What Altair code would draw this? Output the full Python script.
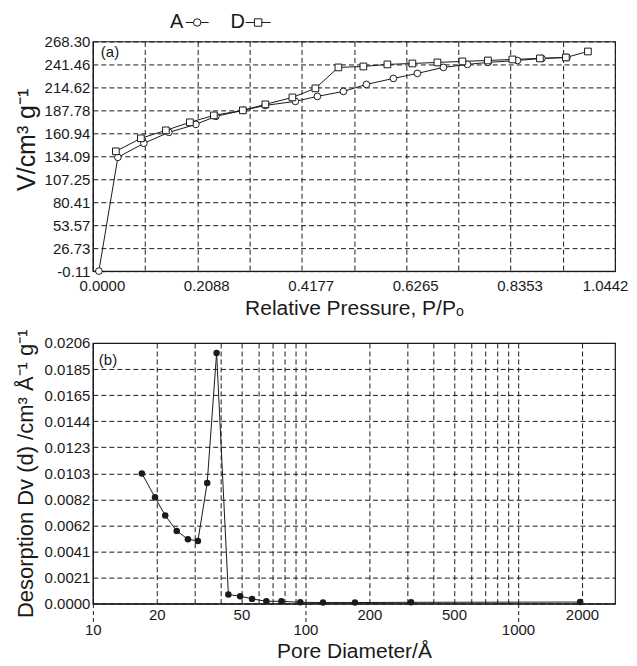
import altair as alt
import pandas as pd

FONT = "Liberation Sans"
INK = "#1a1a1a"

# ---------------- Panel (a): isotherms ----------------
A_P = [0.012, 0.050, 0.102, 0.152, 0.206, 0.246, 0.301, 0.345, 0.405, 0.449,
       0.501, 0.547, 0.601, 0.649, 0.701, 0.749, 0.790, 0.849, 0.898, 0.948]
A_V = [-0.11, 132.9, 149.3, 162.1, 171.4, 180.8, 187.8, 193.6, 198.3, 204.1,
       209.9, 218.1, 225.1, 231.0, 238.0, 241.5, 243.8, 246.1, 248.5, 249.6]
D_P = [0.046, 0.096, 0.146, 0.194, 0.242, 0.300, 0.345, 0.399, 0.445, 0.491,
       0.541, 0.589, 0.639, 0.689, 0.739, 0.790, 0.839, 0.894, 0.946, 0.990]
D_V = [139.9, 155.1, 164.4, 173.8, 181.9, 187.8, 194.8, 202.9, 213.5, 238.0,
       239.1, 241.5, 242.6, 243.8, 245.0, 246.1, 247.3, 248.5, 249.6, 256.6]
SERIES = ["A", "D"]

X_A_TICKS = [0.0, 0.1044, 0.2088, 0.3133, 0.4177, 0.5221, 0.6265,
             0.7309, 0.8353, 0.9398, 1.0442]
Y_A_TICKS = [-0.11, 26.73, 53.57, 80.41, 107.25, 134.09, 160.94, 187.78,
             214.62, 241.46, 268.30]

# ---------------- Panel (b): pore size distribution ----------------
B_D = [17.0, 19.6, 21.9, 24.8, 28.0, 31.2, 34.5, 38.2, 43.4, 49.3, 56.1,
       65.5, 77.1, 94.6, 121, 171, 314, 1960]
B_V = [0.01028, 0.00839, 0.00695, 0.00574, 0.00508, 0.00495, 0.00953,
       0.01979, 0.00071, 0.00058, 0.00037, 0.00018, 0.00018, 0.00010,
       0.00008, 0.00008, 0.00010, 0.00012]

X_B_GRID = [10, 20, 30, 40, 50, 60, 70, 80, 90, 100, 200, 300, 400, 500,
            600, 700, 800, 900, 1000, 2000]
X_B_LABELS = [10, 20, 50, 100, 200, 500, 1000, 2000]
X_B_DECADES = [10, 100, 1000]
Y_B_TICKS = [0.0, 0.002058, 0.004116, 0.006174, 0.008232, 0.01029, 0.012348,
             0.014406, 0.016464, 0.018522, 0.02058]

W = 523
H_A = 230
H_B = 261

df_a = pd.concat([
    pd.DataFrame({"P": A_P, "V": A_V, "series": SERIES[0]}),
    pd.DataFrame({"P": D_P, "V": D_V, "series": SERIES[1]}),
])
df_b = pd.DataFrame({"d": B_D, "dv": B_V})

GRID = dict(grid=True, gridColor=INK, gridDash=[5, 3], gridWidth=1, gridOpacity=1)
AX = dict(labelFont=FONT, titleFont=FONT, labelFontSize=15,
          labelColor=INK, titleColor=INK, titleFontWeight="normal",
          domainColor=INK, domainWidth=1, labelFlush=False)

x_a = alt.X("P:Q", scale=alt.Scale(domain=[0, 1.0442], nice=False, zero=False),
            axis=alt.Axis(values=X_A_TICKS, title="Relative Pressure, P/Pₒ", titleFontSize=21,
                          labelExpr="round(datum.value/0.1044) % 2 == 0 ? format(datum.value, '.4f') : ''",
                          ticks=False, labelPadding=7, titlePadding=4,
                          labelOverlap=False, labelBound=False,
                          labelOffset={"condition": {"test": "datum.value > 1", "value": -10}, "value": 9},
                          **GRID, **AX))
y_a = alt.Y("V:Q", scale=alt.Scale(domain=[-0.11, 268.30], nice=False, zero=False),
            axis=alt.Axis(values=Y_A_TICKS, title="V/cm³ g⁻¹", titleFontSize=25, titleY=98,
                          labelExpr="replace(format(datum.value, '.2f'), '−', '-')",
                          ticks=False, labelPadding=3, titlePadding=5,
                          labelOverlap=False, **GRID, **AX))

shape_scale = alt.Scale(domain=SERIES, range=["circle", "square"])

lines_a = alt.Chart(df_a).mark_line(color=INK, strokeWidth=1).encode(
    x=x_a, y=y_a, detail="series:N")
pts_a = alt.Chart(df_a).mark_point(filled=True, fill="white", stroke=INK,
                                   strokeWidth=1, size=45, opacity=1).encode(
    x=x_a, y=y_a, shape=alt.Shape("series:N", scale=shape_scale, legend=None))

one = pd.DataFrame({"k": [0]})
LY = -19
leg = []
for name, tx, l0, l1, shp in [("A", 84, 93, 116, "circle"), ("D", 145, 153, 178, "square")]:
    leg.append(alt.Chart(one).mark_text(font=FONT, fontSize=20, color=INK, align="center",
                                        baseline="middle").encode(
        x=alt.value(tx), y=alt.value(LY), text=alt.value(name)))
    leg.append(alt.Chart(one).mark_rule(color=INK, strokeWidth=1).encode(
        x=alt.value(l0), x2=alt.value(l1), y=alt.value(LY)))
    leg.append(alt.Chart(one).mark_point(shape=shp, filled=True, fill="white", stroke=INK,
                                         strokeWidth=1, size=55, opacity=1).encode(
        x=alt.value((l0 + l1) / 2), y=alt.value(LY)))

tag_a = alt.Chart(one).mark_text(font=FONT, fontSize=15, color=INK, align="left",
                                 baseline="middle").encode(
    x=alt.value(8), y=alt.value(11), text=alt.value("(a)"))

top = alt.layer(lines_a, pts_a, tag_a, *leg).properties(width=W, height=H_A)

label_expr_b = ("indexof([" + ",".join(str(v) for v in X_B_LABELS) +
                "], datum.value) >= 0 ? format(datum.value, 'd') : ''")
dec_test = "indexof([" + ",".join(str(v) for v in X_B_DECADES) + "], datum.value) >= 0"

x_b = alt.X("d:Q", scale=alt.Scale(type="log", domain=[10, 2860], nice=False),
            axis=alt.Axis(values=X_B_GRID, title="Pore Diameter/Å", titleFontSize=21,
                          labelExpr=label_expr_b, labelOverlap=False, labelBound=False,
                          ticks=True, tickColor=INK, tickDash=[4, 3],
                          tickSize={"condition": {"test": dec_test, "value": 19}, "value": 0},
                          labelPadding={"condition": {"test": dec_test, "value": 0}, "value": 4},
                          titlePadding=3, **GRID, **AX))
y_b = alt.Y("dv:Q", scale=alt.Scale(domain=[0, 0.02058], nice=False, zero=False),
            axis=alt.Axis(values=Y_B_TICKS, format=".4f", titleFontSize=22,
                          title="Desorption Dv (d) /cm³ Å⁻¹ g⁻¹",
                          ticks=False, labelPadding=3, titlePadding=7,
                          labelOverlap=False, **GRID, **AX))

line_b = alt.Chart(df_b).mark_line(color=INK, strokeWidth=1).encode(x=x_b, y=y_b)
pts_b = alt.Chart(df_b).mark_point(filled=True, color=INK, size=42, opacity=1).encode(x=x_b, y=y_b)
tag_b = alt.Chart(one).mark_text(font=FONT, fontSize=15, color=INK, align="left",
                                 baseline="middle").encode(
    x=alt.value(6), y=alt.value(17), text=alt.value("(b)"))

bottom = alt.layer(line_b, pts_b, tag_b).properties(width=W, height=H_B)

chart = alt.vconcat(top, bottom, spacing=9, background="white",
                    padding={"left": 5, "top": 3, "right": 0, "bottom": 0}).configure_view(
    stroke=INK, strokeWidth=1.2
)

chart.save("out.html", embed_options={"renderer": "svg", "actions": False})
